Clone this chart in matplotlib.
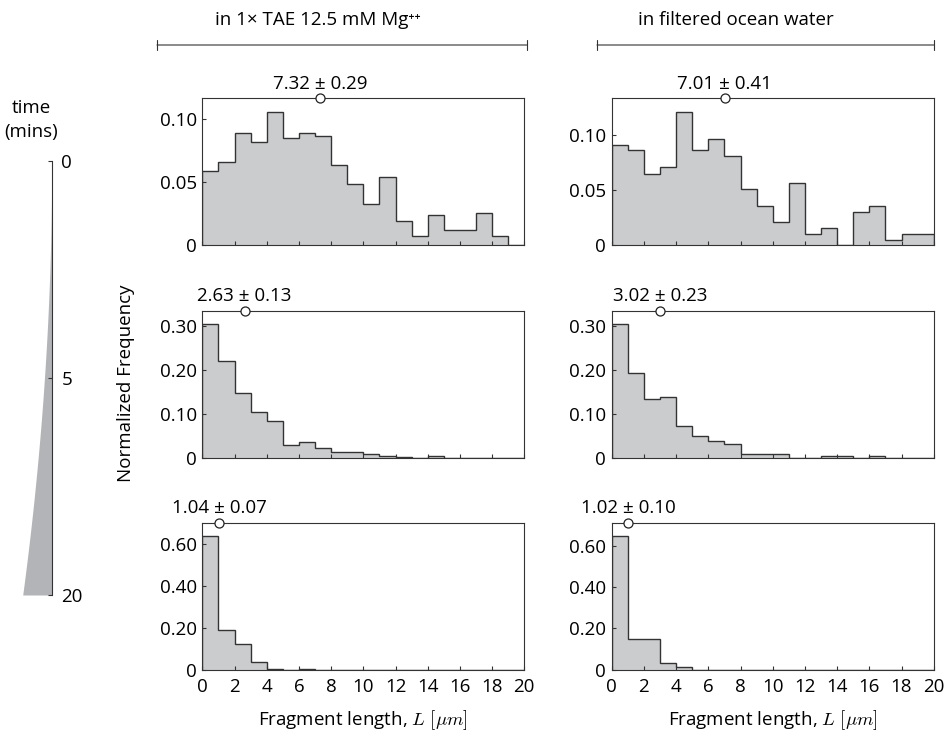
import numpy as np
import matplotlib.pyplot as plt
from matplotlib.ticker import FuncFormatter, NullLocator

plt.rc("font", family=["Open Sans", "DejaVu Sans"], size=13.5)
plt.rc("mathtext", fontset="cm")
plt.rc("axes", edgecolor="#333333", linewidth=0.8)

# bin edges (1 um bins, 0..20)
edges = np.arange(0, 21, 1)

# normalized frequency per bin
tae_t0 = [0.059, 0.066, 0.089, 0.082, 0.106, 0.085, 0.089, 0.087, 0.064, 0.049,
          0.033, 0.054, 0.019, 0.0075, 0.024, 0.012, 0.012, 0.026, 0.0075, 0.0]
ocean_t0 = [0.091, 0.086, 0.065, 0.071, 0.121, 0.086, 0.096, 0.081, 0.051, 0.036,
            0.021, 0.056, 0.010, 0.016, 0.0, 0.030, 0.036, 0.005, 0.010, 0.010]
tae_t5 = [0.304, 0.221, 0.148, 0.104, 0.083, 0.029, 0.035, 0.021, 0.012, 0.012,
          0.008, 0.003, 0.002, 0.0, 0.004, 0.0, 0.0, 0.0, 0.0, 0.0]
ocean_t5 = [0.304, 0.192, 0.133, 0.138, 0.072, 0.050, 0.037, 0.032, 0.009, 0.009,
            0.009, 0.0, 0.0, 0.004, 0.005, 0.0, 0.005, 0.0, 0.0, 0.0]
tae_t20 = [0.640, 0.189, 0.122, 0.035, 0.004, 0.0, 0.003, 0.0, 0.0, 0.0,
           0.0, 0.0, 0.0, 0.0, 0.0, 0.0, 0.0, 0.0, 0.0, 0.0]
ocean_t20 = [0.648, 0.147, 0.147, 0.033, 0.013, 0.0, 0.0, 0.0, 0.0, 0.0,
             0.0, 0.0, 0.0, 0.0, 0.0, 0.0, 0.0, 0.0, 0.0, 0.0]

hists = [[tae_t0, ocean_t0], [tae_t5, ocean_t5], [tae_t20, ocean_t20]]
means = [[7.32, 7.01], [2.63, 3.02], [1.04, 1.02]]
errs = [[0.29, 0.41], [0.13, 0.23], [0.07, 0.10]]
yticks = [[0, 0.05, 0.10], [0, 0.10, 0.20, 0.30], [0, 0.20, 0.40, 0.60]]
xticks = np.arange(0, 21, 2)

col_titles = ["in 1\u00d7 TAE 12.5 mM Mg\u207a\u207a", "in filtered ocean water"]
time_ticks = [0, 5, 20]

W, H = 948, 742
fig = plt.figure(figsize=(W / 100, H / 100), dpi=100)

col_x = [202.3 / W, 611.7 / W]
ax_w = 322 / W
row_top = [98.3, 310.7, 522.7]
ax_h = 147 / H

fill_c = "#cbccce"
line_c = "#333333"
fmt = FuncFormatter(lambda v, p: "0" if abs(v) < 1e-9 else f"{v:.2f}")

axes = []
for i in range(3):
    for j in range(2):
        ax = fig.add_axes([col_x[j], 1 - (row_top[i] + 147) / H, ax_w, ax_h])
        vals = np.array(hists[i][j])
        ax.stairs(vals, edges, fill=True, color=fill_c, lw=0)
        ax.stairs(vals, edges, color=line_c, lw=1.0)
        ax.set_xlim(0, 20)
        ax.set_ylim(0, 1.1 * vals.max())
        ax.set_yticks(yticks[i])
        ax.yaxis.set_major_formatter(fmt)
        ax.set_xticks(xticks)
        ax.tick_params(direction="in", length=3, width=0.8, color=line_c,
                       top=False, right=False, pad=4)
        ax.tick_params(axis="x", pad=6)
        if i < 2:
            ax.set_xticklabels([])
        else:
            ax.set_xlabel(r"Fragment length, $L\ [\mu m]$", labelpad=9)
        ax.plot([means[i][j]], [1], "o", mfc="white", mec="#222222", ms=6.5,
                mew=0.9, transform=ax.get_xaxis_transform(), clip_on=False, zorder=5)
        ax.annotate(f"{means[i][j]:.2f} \u00b1 {errs[i][j]:.2f}", xy=(means[i][j], 1),
                    xycoords=ax.get_xaxis_transform(), xytext=(0, 4),
                    textcoords="offset points", ha="center", va="bottom")
        axes.append(ax)

# column headers with bracket lines
head_x = [318 / W, 736 / W]
line_span = [(157 / W, 527 / W), (597 / W, 934 / W)]
for j in range(2):
    fig.text(head_x[j], 1 - 20 / H, col_titles[j], ha="center", va="center")
    axes[0].annotate("", xy=(line_span[j][1], 1 - 45 / H), xycoords="figure fraction",
                     xytext=(line_span[j][0], 1 - 45 / H), textcoords="figure fraction",
                     arrowprops=dict(arrowstyle="|-|,widthA=0.25,widthB=0.25",
                                     lw=0.8, color=line_c, shrinkA=0, shrinkB=0),
                     annotation_clip=False)

fig.text(126 / W, 1 - 383 / H, "Normalized Frequency", rotation=90,
         ha="center", va="center")

# time bar on the left
ax_t = fig.add_axes([22.7 / W, 1 - 595 / H, 29 / W, 434 / H])
ax_t.set_yscale("function", functions=(lambda t: np.sqrt(np.clip(t, 0, None)), np.square))
t = np.linspace(time_ticks[0], time_ticks[-1], 200)
ax_t.fill_betweenx(t, 1 - t / time_ticks[-1], 1, color="#b3b4b8", lw=0)
ax_t.set_xlim(0, 1)
ax_t.set_ylim(time_ticks[-1], time_ticks[0])
for s in ["left", "top", "bottom"]:
    ax_t.spines[s].set_visible(False)
ax_t.spines["right"].set_color(line_c)
ax_t.set_xticks([])
ax_t.yaxis.tick_right()
ax_t.set_yticks(time_ticks)
ax_t.set_yticklabels([str(v) for v in time_ticks])
ax_t.yaxis.set_minor_locator(NullLocator())
ax_t.tick_params(axis="y", direction="in", length=3, width=0.8, color=line_c, pad=7)
ax_t.patch.set_visible(False)

fig.text(31 / W, 1 - 108 / H, "time", ha="center", va="center")
fig.text(31 / W, 1 - 132 / H, "(mins)", ha="center", va="center")

fig.savefig("out.png", dpi=100)
